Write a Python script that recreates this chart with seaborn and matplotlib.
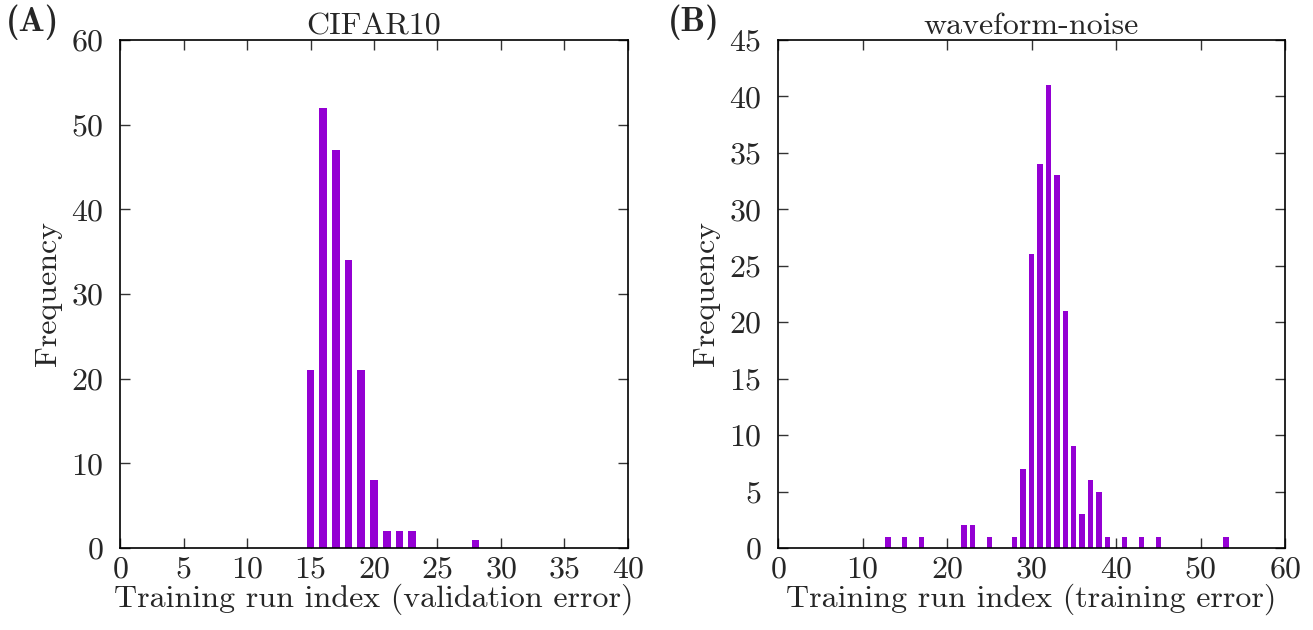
import matplotlib
matplotlib.use("Agg")
import matplotlib.pyplot as plt
import seaborn as sns
import numpy as np

# Panel A: CIFAR10
cifar_index = [15, 16, 17, 18, 19, 20, 21, 22, 23, 28]
cifar_freq = [21, 52, 47, 34, 21, 8, 2, 2, 2, 1]

# Panel B: waveform-noise
wave_index = [13, 15, 17, 22, 23, 25, 28, 29, 30, 31, 32, 33, 34, 35, 36, 37, 38, 39, 41, 43, 45, 53]
wave_freq = [1, 1, 1, 2, 2, 1, 1, 7, 26, 34, 41, 33, 21, 9, 3, 6, 5, 1, 1, 1, 1, 1]

cifar_xticks = [0, 5, 10, 15, 20, 25, 30, 35, 40]
cifar_yticks = [0, 10, 20, 30, 40, 50, 60]
wave_xticks = [0, 10, 20, 30, 40, 50, 60]
wave_yticks = [0, 5, 10, 15, 20, 25, 30, 35, 40, 45]

sns.set_style("ticks")
plt.rcParams["font.family"] = ["cmr10", "DejaVu Serif"]
plt.rcParams["axes.formatter.use_mathtext"] = True
plt.rcParams["mathtext.fontset"] = "cm"

COLOR = "#9400D3"
FS = 23
fig = plt.figure(figsize=(13.13, 6.30), dpi=100)
axA = fig.add_axes([120/1313, 1-548/630, (628-120)/1313, (548-40)/630])
axB = fig.add_axes([778/1313, 1-548/630, (1285-778)/1313, (548-40)/630])

def draw(ax, idx, freq, shrink, xt, yt, title, xlabel):
    sns.histplot(x=idx, weights=freq, discrete=True, shrink=shrink, color=COLOR,
                 alpha=1, linewidth=0, ax=ax)
    ax.set_xlim(xt[0], xt[-1])
    ax.set_ylim(yt[0], yt[-1])
    ax.set_xticks(xt)
    ax.set_yticks(yt)
    ax.tick_params(direction="in", length=7, width=1.0, top=True, right=True,
                   labelsize=FS, color="#333333")
    ax.tick_params(axis="x", pad=6)
    ax.tick_params(axis="y", pad=12)
    for s in ax.spines.values():
        s.set_visible(True)
        s.set_linewidth(1.2)
        s.set_color("black")
    ax.set_title(title, fontsize=FS, pad=4)
    ax.set_xlabel(xlabel, fontsize=FS, labelpad=0)
    ax.set_ylabel("Frequency", fontsize=FS, labelpad=6)

draw(axA, cifar_index, cifar_freq, 0.6, cifar_xticks, cifar_yticks, "CIFAR10",
     "Training run index (validation error)")
draw(axB, wave_index, wave_freq, 0.65, wave_xticks, wave_yticks, "waveform-noise",
     "Training run index (training error)")

fig.text(6/1313, 1-22/630, "(A)", fontsize=25, family=["cmb10", "DejaVu Serif"],
         va="center", ha="left")
fig.text(668/1313, 1-22/630, "(B)", fontsize=25, family=["cmb10", "DejaVu Serif"],
         va="center", ha="left")

fig.savefig("out.png", dpi=100)
